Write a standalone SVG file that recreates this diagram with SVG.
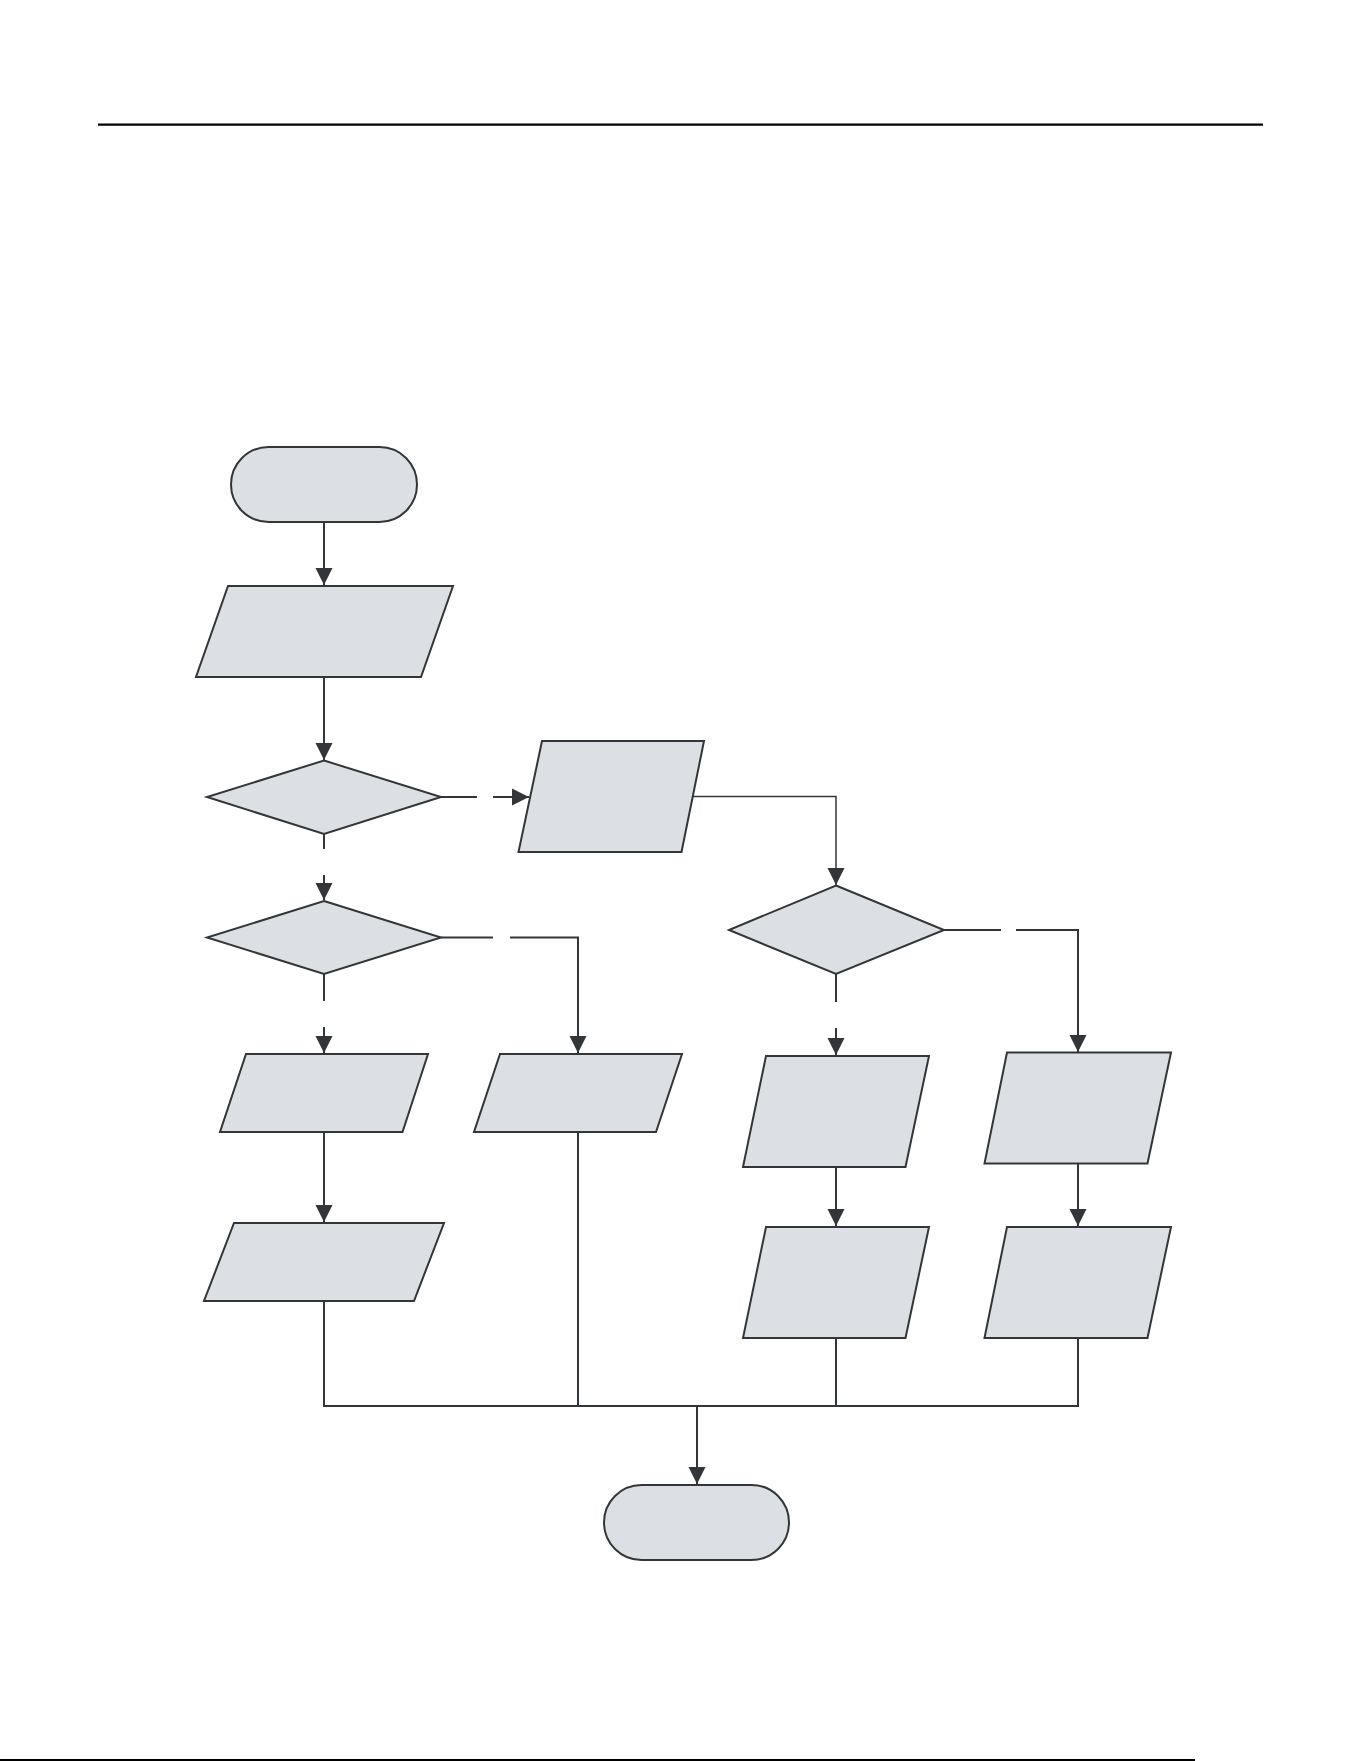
<svg xmlns="http://www.w3.org/2000/svg" width="1361" height="1761" viewBox="0 0 1361 1761">
<style>
.node{fill:#dce0e4;stroke:#333638;stroke-width:2;stroke-linejoin:miter}
.conn{fill:none;stroke:#333638;stroke-width:2}
.thin{stroke-width:1.5}
.rule{stroke:#000;stroke-width:2.2}
</style>
<defs>
<marker id="arr" markerUnits="userSpaceOnUse" markerWidth="18" markerHeight="18" viewBox="0 0 18 18" refX="17" refY="9" orient="auto">
<path d="M0,0.5 L17,9 L0,17.5 Z" fill="#333638"/>
</marker>
</defs>
<rect width="1361" height="1761" fill="#fff"/>
<line class="rule" x1="98" y1="124.6" x2="1263" y2="124.6"/>
<line class="rule" x1="0" y1="1760" x2="1195" y2="1760"/>

<g id="connectors">
<path class="conn" d="M324,522 V585" marker-end="url(#arr)"/>
<path class="conn" d="M324,677 V760" marker-end="url(#arr)"/>
<path class="conn" d="M441,797 H477 M493,797 H529" marker-end="url(#arr)"/>
<path class="conn thin" d="M693,796.5 H836 V885" marker-end="url(#arr)"/>
<path class="conn" d="M324,834 V849 M324,875 V900" marker-end="url(#arr)"/>
<path class="conn" d="M441,937.5 H493 M510,937.5 H578 V1053" marker-end="url(#arr)"/>
<path class="conn" d="M324,974 V1001 M324,1027 V1053" marker-end="url(#arr)"/>
<path class="conn" d="M944,930 H1001 M1016,930 H1078 V1052" marker-end="url(#arr)"/>
<path class="conn" d="M836,974 V1002 M836,1028 V1055" marker-end="url(#arr)"/>
<path class="conn" d="M324,1132 V1222" marker-end="url(#arr)"/>
<path class="conn" d="M836,1167 V1226" marker-end="url(#arr)"/>
<path class="conn" d="M1078,1163 V1226" marker-end="url(#arr)"/>
<path class="conn" d="M324,1301 V1406 H1078 V1338 M578,1132 V1406 M836,1338 V1406"/>
<path class="conn" d="M697,1406 V1484" marker-end="url(#arr)"/>
</g>

<g id="start"><rect class="node" x="231" y="447" width="186" height="75" rx="37.5" ry="37.5"/></g>
<g id="input1"><polygon class="node" points="228,586 453,586 421,677 196,677"/></g>
<g id="decision1"><polygon class="node" points="324,760.5 441,797 324,834 207,797"/></g>
<g id="output2"><polygon class="node" points="542,741 704,741 681.5,852 518.5,852"/></g>
<g id="decision2"><polygon class="node" points="324,901 441,937.5 324,974 207,937.5"/></g>
<g id="decision3"><polygon class="node" points="836,885.5 944,930 836,974 729,930"/></g>
<g id="box3"><polygon class="node" points="246,1054 428,1054 402.5,1132 220,1132"/></g>
<g id="box4"><polygon class="node" points="500,1054 682,1054 656,1132 474,1132"/></g>
<g id="box5"><polygon class="node" points="234,1223 444,1223 414,1301 204,1301"/></g>
<g id="box6"><polygon class="node" points="766,1056 929,1056 905.5,1167 743,1167"/></g>
<g id="box7"><polygon class="node" points="1007,1052.5 1171,1052.5 1147.5,1163.5 984.5,1163.5"/></g>
<g id="box8"><polygon class="node" points="766,1227 929,1227 905.5,1338 743,1338"/></g>
<g id="box9"><polygon class="node" points="1007,1227 1171,1227 1147.5,1338 984.5,1338"/></g>
<g id="end"><rect class="node" x="604" y="1485" width="185" height="75" rx="37.5" ry="37.5"/></g>
</svg>
